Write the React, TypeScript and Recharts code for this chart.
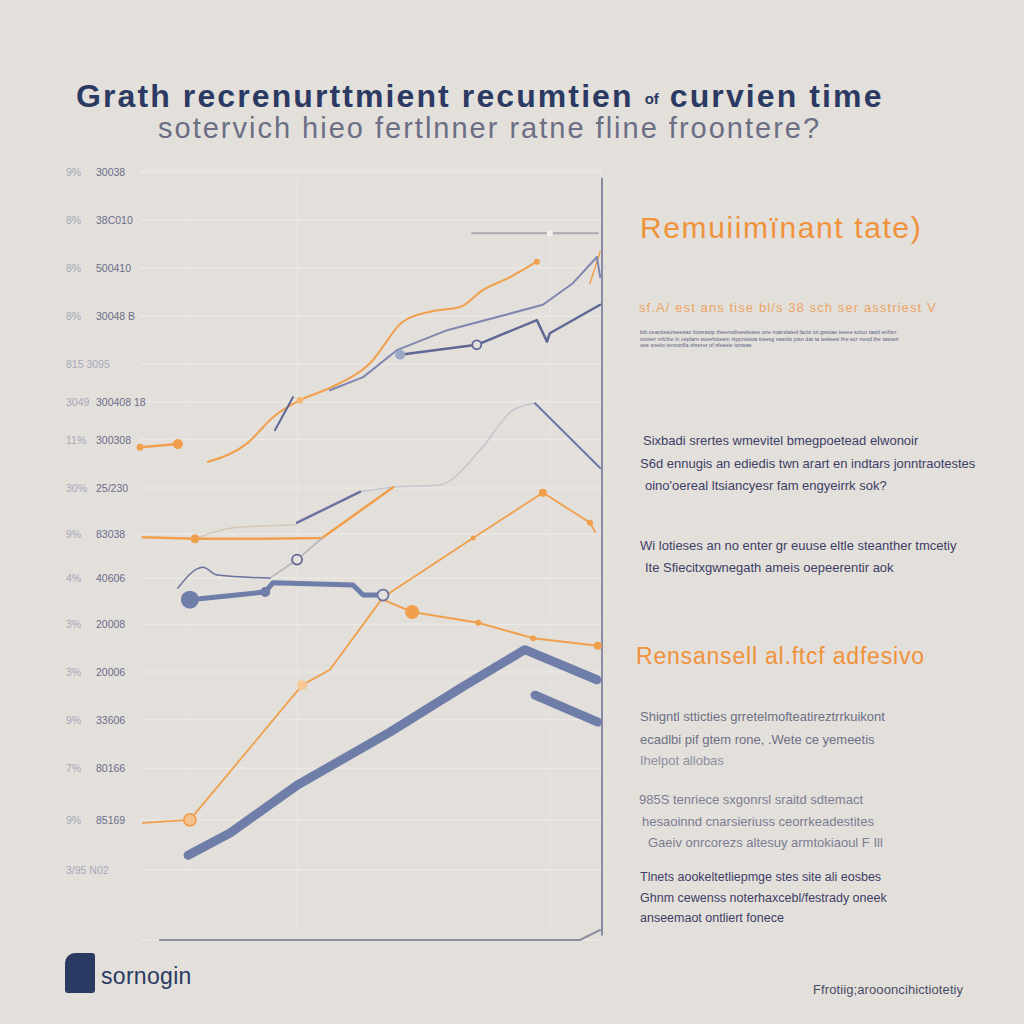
import React from 'react';
import { ComposedChart, Line, XAxis, YAxis, CartesianGrid, ReferenceLine } from 'recharts';

// y tick values and their two-column labels (left: %, right: code)
const yTicks = [99.7, 93.5, 87.3, 81.0, 74.8, 69.9, 65.0, 58.7, 52.7, 47.0, 41.0, 34.8, 28.6, 22.3, 15.6, 9.1];
const yTickLeft = ['9%', '8%', '8%', '8%', '815 3095', '3049', '11%', '30%', '9%', '4%', '3%', '3%', '9%', '7%', '9%', '3/95 N02'];
const yTickRight = ['30038', '38C010', '500410', '30048 B', '', '300408 18', '300308', '25/230', '83038', '40606', '20008', '20006', '33606', '80166', '85169', ''];

const leftStub = [{ x: 0, y: 64.0 }, { x: 8.2, y: 64.4 }];
const orangeUpper = [
  { x: 14.7, y: 62.1 }, { x: 23.2, y: 64.5 }, { x: 28.8, y: 67.9 }, { x: 34.6, y: 70.1 },
  { x: 41.1, y: 71.7 }, { x: 49.8, y: 74.9 }, { x: 56.9, y: 80.3 }, { x: 62.8, y: 81.6 },
  { x: 69.3, y: 82.2 }, { x: 74.2, y: 84.4 }, { x: 80.1, y: 86.1 }, { x: 85.9, y: 88.1 },
];
const orangeTip = [{ x: 97.4, y: 85.3 }, { x: 99.6, y: 89.4 }];
const blueUpper1 = [
  { x: 41.1, y: 71.4 }, { x: 48.3, y: 73.1 }, { x: 55.6, y: 76.6 }, { x: 66.5, y: 79.2 },
  { x: 77.3, y: 80.9 }, { x: 87.2, y: 82.5 }, { x: 93.7, y: 85.3 }, { x: 98.9, y: 88.7 }, { x: 99.6, y: 86.1 },
];
const blueUpper2 = [
  { x: 56.3, y: 76.0 }, { x: 72.9, y: 77.3 }, { x: 85.9, y: 80.5 }, { x: 88.1, y: 77.7 },
  { x: 88.7, y: 78.8 }, { x: 99.6, y: 82.5 },
];
const blueStub = [{ x: 29.2, y: 66.2 }, { x: 33.1, y: 70.5 }];
const topGray = [{ x: 71.9, y: 91.8 }, { x: 88.7, y: 91.8 }, { x: 99.1, y: 91.8 }];
const midRise = [
  { x: 47.6, y: 58.2 }, { x: 54.8, y: 58.8 }, { x: 64.9, y: 59.1 }, { x: 73.6, y: 63.6 },
  { x: 80.7, y: 68.8 }, { x: 85.5, y: 69.7 },
];
const midLeft = [{ x: 34.0, y: 54.2 }, { x: 47.6, y: 58.2 }];
const midDrop = [{ x: 85.5, y: 69.7 }, { x: 99.6, y: 61.3 }];
const faintTan = [{ x: 11.9, y: 52.1 }, { x: 21.0, y: 53.6 }, { x: 34.0, y: 53.9 }];
const orangeFlat = [
  { x: 0.6, y: 52.3 }, { x: 11.9, y: 52.1 }, { x: 26.6, y: 52.1 }, { x: 39.4, y: 52.2 }, { x: 54.8, y: 58.8 },
];
const thinGray = [{ x: 28.1, y: 47.0 }, { x: 34.0, y: 49.4 }, { x: 39.4, y: 52.2 }];
const blueThinLoop = [{ x: 8.2, y: 45.7 }, { x: 13.6, y: 48.4 }, { x: 16.7, y: 47.4 }, { x: 28.1, y: 47.0 }];
const blueMidThick = [
  { x: 10.8, y: 44.2 }, { x: 27.1, y: 45.2 }, { x: 28.8, y: 46.4 }, { x: 46.1, y: 46.1 },
  { x: 48.3, y: 44.8 }, { x: 52.6, y: 44.8 },
];
const orangeLong = [
  { x: 0.6, y: 15.2 }, { x: 10.8, y: 15.6 }, { x: 35.1, y: 33.1 }, { x: 41.1, y: 35.1 },
  { x: 52.6, y: 44.5 }, { x: 72.1, y: 52.2 }, { x: 87.2, y: 58.1 }, { x: 97.4, y: 54.2 }, { x: 98.5, y: 53.0 },
];
const orangeDesc = [
  { x: 52.6, y: 44.2 }, { x: 58.9, y: 42.6 }, { x: 73.2, y: 41.2 }, { x: 85.1, y: 39.2 }, { x: 99.1, y: 38.2 },
];
const blueThickLow = [
  { x: 10.4, y: 11.0 }, { x: 19.5, y: 13.9 }, { x: 34.0, y: 20.1 }, { x: 54.1, y: 27.0 },
  { x: 69.9, y: 32.9 }, { x: 83.3, y: 37.7 }, { x: 98.9, y: 33.8 },
];
const blueThickShort = [{ x: 85.5, y: 31.8 }, { x: 99.1, y: 28.3 }];
const baseAxis = [{ x: 4.3, y: 0 }, { x: 95.2, y: 0 }, { x: 99.6, y: 1.3 }];

const ORANGE = '#f0a04c';
const BLUE = '#6f7ea8';
const NAVY = '#2b3a62';

// dot renderer that only draws markers at chosen indices
const dotsAt = (marks: { [i: number]: { r: number; fill: string; stroke?: string } }) => (props: any) => {
  const m = marks[props.index];
  if (!m) return <g key={props.key} />;
  return (
    <circle key={props.key} cx={props.cx} cy={props.cy} r={m.r} fill={m.fill}
      stroke={m.stroke || m.fill} strokeWidth={m.stroke ? 1.8 : 0} />
  );
};

const YTick = ({ y, index }: any) => (
  <g>
    <text x={66} y={y + 4} fontSize={10.5} fill="#a6a8ba" fontFamily="Liberation Sans, Arial">{yTickLeft[index]}</text>
    <text x={96} y={y + 4} fontSize={10.5} fill="#6a6d8a" fontFamily="Liberation Sans, Arial">{yTickRight[index]}</text>
  </g>
);

const T = ({ top, left, size, color, weight = 400, children, spacing = 0 }: any) => (
  <div style={{ position: 'absolute', top, left, fontSize: size, color, fontWeight: weight, lineHeight: 1,
    whiteSpace: 'nowrap', letterSpacing: spacing, fontFamily: '"Liberation Sans", Arial, sans-serif' }}>
    {children}
  </div>
);

const ln = (data: any[], stroke: string, width: number, dot: any = false, curve = 'linear') => (
  <Line data={data} dataKey="y" type={curve as any} stroke={stroke} strokeWidth={width}
    dot={dot} activeDot={false} isAnimationActive={false} strokeLinecap="round" strokeLinejoin="round" legendType="none" />
);

export default function App() {
  return (
    <div style={{ position: 'absolute', left: 0, top: 0, width: 1024, height: 1024, background: '#e3dfdb', overflow: 'hidden' }}>
      <T top={80} left={76} size={32} color={NAVY} weight={700} spacing={2.1}>
        Grath recrenurttmient recumtien <span style={{ fontSize: 15, verticalAlign: 'middle', letterSpacing: 0 }}>of</span> curvien time
      </T>
      <T top={114} left={158} size={29} color="#6b6e84" spacing={2}>sotervich hieo fertlnner ratne fline froontere?</T>

      <div style={{ position: 'absolute', left: 0, top: 0 }}>
        <ComposedChart width={620} height={960} margin={{ top: 170, right: 18, bottom: 20, left: 80 }}>
          <CartesianGrid vertical={false} stroke="#ebe8e5" strokeWidth={1.5} />
          <XAxis type="number" dataKey="x" domain={[0, 100]} hide allowDuplicatedCategory={false} />
          <YAxis type="number" domain={[0, 100]} ticks={yTicks} width={60} axisLine={false} tickLine={false}
            tick={<YTick />} interval={0} />
          <ReferenceLine segment={[{ x: 10.8, y: 1 }, { x: 10.8, y: 99 }]} stroke="#e9e6e3" />
          <ReferenceLine segment={[{ x: 34.0, y: 1 }, { x: 34.0, y: 99 }]} stroke="#e9e6e3" />
          <ReferenceLine segment={[{ x: 88.7, y: 1 }, { x: 88.7, y: 91 }]} stroke="#e9e6e3" />
          <ReferenceLine segment={[{ x: 100, y: 0.6 }, { x: 100, y: 99 }]} stroke="#6b6f92" strokeWidth={1.5} />
          {ln(baseAxis, '#8e90a0', 2)}
          {ln(topGray, '#aaa9b0', 2, dotsAt({ 1: { r: 3, fill: '#f2f0ee' } }))}
          {ln(faintTan, '#d6c6b3', 1.5, false, 'monotone')}
          {ln(midRise, '#c4c5d0', 1.5, false, 'monotone')}
          {ln(midLeft, '#6a719e', 2.5)}
          {ln(midDrop, '#7077a3', 2)}
          {ln(leftStub, ORANGE, 2.5, dotsAt({ 0: { r: 3.5, fill: ORANGE }, 1: { r: 5, fill: ORANGE } }))}
          {ln(orangeUpper, ORANGE, 2, dotsAt({ 3: { r: 3.5, fill: '#f2b878' }, 11: { r: 3, fill: ORANGE } }), 'monotone')}
          {ln(orangeTip, ORANGE, 1.5)}
          {ln(blueUpper1, '#7f86b0', 2)}
          {ln(blueUpper2, '#5f6795', 2.5, dotsAt({ 0: { r: 5, fill: '#9aaac6' }, 1: { r: 4.5, fill: '#e3dfdb', stroke: '#5f6795' } }))}
          {ln(blueStub, '#5f6795', 2)}
          {ln(orangeFlat, ORANGE, 2.5, dotsAt({ 1: { r: 4.5, fill: ORANGE } }))}
          {ln(thinGray, '#b4b4bd', 1.5, dotsAt({ 1: { r: 5, fill: '#e3dfdb', stroke: '#5f6795' } }))}
          {ln(blueThinLoop, '#6a719e', 1.5, false, 'monotone')}
          {ln(blueMidThick, BLUE, 5, dotsAt({ 0: { r: 9, fill: BLUE }, 1: { r: 5, fill: BLUE }, 5: { r: 5.5, fill: '#e3dfdb', stroke: '#6a719e' } }))}
          {ln(orangeLong, ORANGE, 1.8, dotsAt({ 1: { r: 6, fill: '#f3c290', stroke: ORANGE }, 2: { r: 5, fill: '#f5c896' }, 5: { r: 2.5, fill: ORANGE }, 6: { r: 4, fill: ORANGE }, 7: { r: 3, fill: ORANGE } }))}
          {ln(orangeDesc, ORANGE, 2, dotsAt({ 1: { r: 7, fill: ORANGE }, 2: { r: 3, fill: ORANGE }, 3: { r: 3, fill: ORANGE }, 4: { r: 4, fill: ORANGE } }))}
          {ln(blueThickLow, BLUE, 9)}
          {ln(blueThickShort, BLUE, 9)}
        </ComposedChart>
      </div>

      <T top={213} left={640} size={30} color="#f0923a" spacing={1.6}>Remuiimïnant tate)</T>
      <T top={301} left={639} size={13} color="#eba565" spacing={1.1}>sf.A/ est ans tise bl/s 38 sch ser asstriest V</T>
      <div style={{ position: 'absolute', top: 329, left: 640, width: 268, fontSize: 5.5, lineHeight: '6.5px', color: '#5a5f88', fontFamily: 'Liberation Sans, Arial' }}>
        bib ceantiesuiseesao ltowrastp theernslivewleseo orie matrslated facts iot gwsiae teeee soiuo tawtl erifisn sxvierr mfcfiie ln ceplarn suvehtsesm rkpcrtteioa sisesg sasrds ptsn dat ta tesleesi the ecr rresd the tasoeir oes sneiio tenxonfla shrerer of sfeseie tonwas
      </div>

      <T top={434} left={643} size={13} color="#3d4066">Sixbadi srertes wmevitel bmegpoetead elwonoir</T>
      <T top={457} left={640} size={13} color="#3d4066">S6d ennugis an ediedis twn arart en indtars jonntraotestes</T>
      <T top={479} left={645} size={13} color="#3d4066">oino'oereal ltsiancyesr  fam engyeirrk sok?</T>

      <T top={539} left={640} size={13} color="#3d4066">Wi lotieses an no enter gr euuse eltle steanther tmcetiy</T>
      <T top={561} left={645} size={13} color="#3d4066">Ite  Sfiecitxgwnegath ameis oepeerentir aok</T>

      <T top={645} left={636} size={23} color="#f0923a" spacing={0.8}>Rensansell al.ftcf adfesivo</T>

      <T top={710} left={640} size={13} color="#6d6f85">Shigntl stticties  grretelmofteatireztrrkuikont</T>
      <T top={733} left={640} size={13} color="#6d6f85">ecadlbi pif gtem rone, .Wete ce yemeetis</T>
      <T top={754} left={640} size={13} color="#8d8fa0">Ihelpot  allobas</T>

      <T top={793} left={639} size={13} color="#7b7d92">985S tenriece sxgonrsl sraitd sdtemact</T>
      <T top={815} left={642} size={13} color="#7b7d92">hesaoinnd cnarsieriuss ceorrkeadestites</T>
      <T top={836} left={648} size={13} color="#7b7d92">Gaeiv onrcorezs altesuy  armtokiaoul F Ill</T>

      <T top={871} left={640} size={12.5} color="#3d4066">Tlnets aookeltetliepmge stes site ali eosbes</T>
      <T top={892} left={640} size={12.5} color="#3d4066">Ghnm cewenss noterhaxcebl/festrady oneek</T>
      <T top={912} left={640} size={12.5} color="#3d4066">anseemaot ontliert fonece</T>

      <div style={{ position: 'absolute', left: 65, top: 953, width: 30, height: 40, background: NAVY, borderRadius: '10px 3px 3px 3px' }} />
      <T top={965} left={101} size={23} color={NAVY} spacing={0.3}>sornogin</T>
      <T top={983} left={813} size={13} color="#4a4d66" spacing={0.1}>Ffrotiig;aroooncihictiotetiy</T>
    </div>
  );
}
